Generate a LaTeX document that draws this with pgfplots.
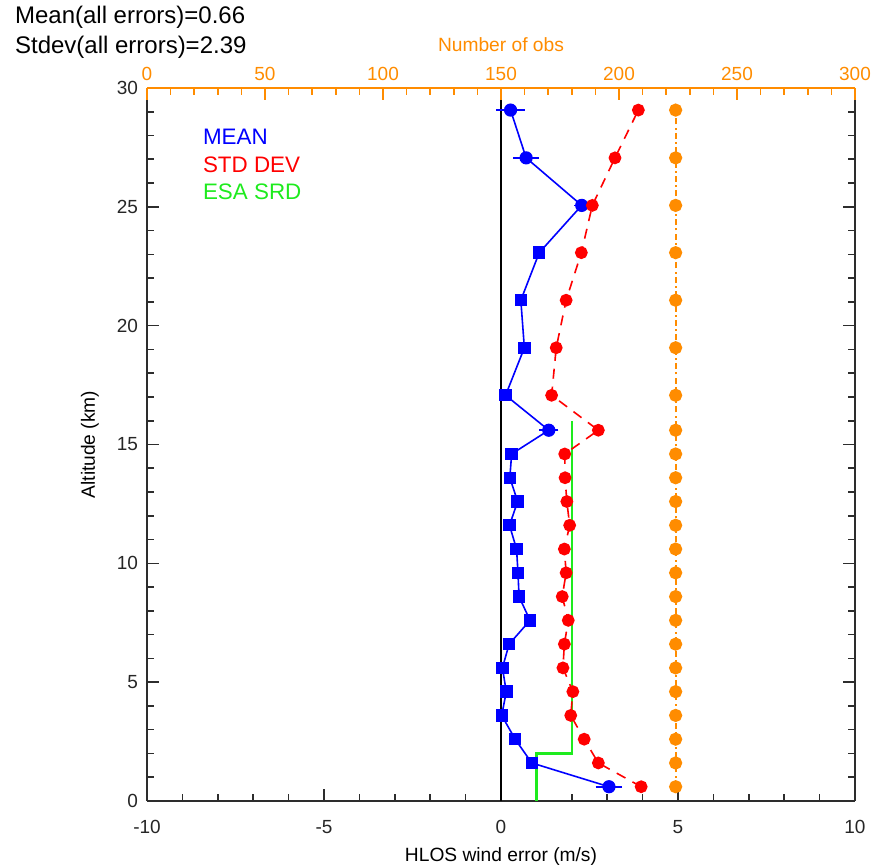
\documentclass[border=0pt]{standalone}
\usepackage{fontspec}
\setmainfont{Liberation Sans}
\usepackage{pgfplots}
\usepackage{pgfplotstable}
\pgfplotsset{compat=1.18}
\definecolor{obsorange}{RGB}{255,140,0}
\definecolor{srdgreen}{RGB}{30,235,30}
\definecolor{axisgray}{RGB}{45,45,45}

\pgfplotstableread{
y x ex c
0.6 3.05 0.25 c
1.6 0.87 0 s
2.6 0.40 0 s
3.6 0.02 0 s
4.6 0.15 0 s
5.6 0.04 0 s
6.6 0.23 0 s
7.6 0.82 0 s
8.6 0.51 0 s
9.6 0.48 0 s
10.6 0.44 0 s
11.6 0.24 0 s
12.6 0.47 0 s
13.6 0.25 0 s
14.6 0.30 0 s
15.6 1.35 0.15 c
17.07 0.13 0 s
19.07 0.66 0 s
21.07 0.56 0 s
23.07 1.08 0 s
25.06 2.28 0.08 c
27.06 0.71 0.24 c
29.07 0.27 0.28 c
}\meantable

\pgfplotstableread{
y x
0.6 3.96
1.6 2.75
2.6 2.35
3.6 1.97
4.6 2.03
5.6 1.75
6.6 1.79
7.6 1.90
8.6 1.73
9.6 1.84
10.6 1.79
11.6 1.94
12.6 1.86
13.6 1.81
14.6 1.80
15.6 2.75
17.07 1.43
19.07 1.56
21.07 1.84
23.07 2.27
25.06 2.58
27.06 3.22
29.07 3.88
}\stdtable

\pgfplotstableread{
y n
0.6 224
1.6 224
2.6 224
3.6 224
4.6 224
5.6 224
6.6 224
7.6 224
8.6 224
9.6 224
10.6 224
11.6 224
12.6 224
13.6 224
14.6 224
15.6 224
17.07 224
19.07 224
21.07 224
23.07 224
25.06 224
27.06 224
29.07 224
}\obstable

\begin{document}
\begin{tikzpicture}
\useasboundingbox (-73.5pt,-32pt) rectangle (363.5pt,400.5pt);
\begin{axis}[
  at={(0,0)}, anchor=south west,
  scale only axis, width=354pt, height=356.5pt,
  xmin=-10, xmax=10, ymin=0, ymax=30,
  axis x line*=bottom, axis y line*=box,
  axis line style={axisgray, line width=0.8pt},
  xtick={-10,-5,0,5,10}, minor x tick num=4,
  ytick={0,5,10,15,20,25,30}, minor y tick num=4,
  tick align=inside,
  major tick length=6pt, minor tick length=3.5pt,
  every tick/.style={axisgray, line width=0.8pt},
  /pgf/number format/assume math mode=true,
  tick label style={font=\fontsize{9.5}{11}\selectfont, text=black!85},
  xticklabel style={yshift=-6pt},
  yticklabel style={xshift=-1pt},
  xlabel={HLOS wind error (m/s)},
  ylabel={Altitude (km)},
  label style={font=\fontsize{9.6}{11}\selectfont},
  xlabel style={at={(axis description cs:0.5,-0.0785)}, anchor=center},
  ylabel style={at={(axis description cs:-0.0805,0.5)}, anchor=center, rotate=0},
  clip=false,
]
\addplot[black, line width=0.9pt, forget plot] coordinates {(0,0) (0,30)};
\addplot[srdgreen, line width=1.2pt] coordinates {(1,0) (1,2) (2,2) (2,16)};
\addplot[blue, line width=0.8pt,
  scatter, point meta=explicit symbolic,
  scatter/classes={
    s={mark=square*, mark size=2.7pt, blue},
    c={mark=*, mark size=2.9pt, blue}},
  error bars/.cd, x dir=both, x explicit,
  error bar style={blue, line width=0.8pt},
  error mark options={blue, mark size=2.2pt, line width=0.8pt}]
  table[x=x, y=y, x error=ex, meta=c] {\meantable};
\addplot[red, line width=0.8pt, dash pattern=on 5pt off 4pt,
  mark=*, mark size=2.8pt, mark options={solid, fill=red}]
  table[x=x, y=y] {\stdtable};
\node[blue, anchor=west, font=\fontsize{11.2}{13}\selectfont] at (axis description cs:0.0692,0.9313) {MEAN};
\node[red, anchor=west, font=\fontsize{11.2}{13}\selectfont] at (axis description cs:0.0692,0.892) {STD DEV};
\node[srdgreen, anchor=west, font=\fontsize{11.2}{13}\selectfont] at (axis description cs:0.0692,0.854) {ESA SRD};
\node[black, anchor=west, font=\fontsize{12}{14}\selectfont] at (axis description cs:-0.1963,1.0985) {Mean(all errors)=0.66};
\node[black, anchor=west, font=\fontsize{12}{14}\selectfont] at (axis description cs:-0.1963,1.0575) {Stdev(all errors)=2.39};
\end{axis}
\begin{axis}[
  at={(0,0)}, anchor=south west,
  scale only axis, width=354pt, height=356.5pt,
  xmin=0, xmax=300, ymin=0, ymax=30,
  axis x line*=top, axis y line=none,
  axis line style={obsorange, line width=0.8pt},
  xtick={0,50,100,150,200,250,300}, minor x tick num=4,
  tick align=inside,
  major tick length=6pt, minor tick length=3.5pt,
  every tick/.style={obsorange, line width=0.8pt},
  /pgf/number format/assume math mode=true,
  tick label style={font=\fontsize{9.5}{11}\selectfont, text=obsorange},
  xlabel={Number of obs},
  xlabel style={font=\fontsize{9.6}{11}\selectfont, text=obsorange, at={(axis description cs:0.5,1.0603)}, anchor=center},
  clip=false,
]
\addplot[obsorange, line width=1pt, dash pattern=on 3pt off 1.6pt on 1pt off 1.6pt,
  mark=*, mark size=2.8pt, mark options={solid, fill=obsorange}]
  table[x=n, y=y] {\obstable};
\end{axis}
\end{tikzpicture}
\end{document}
